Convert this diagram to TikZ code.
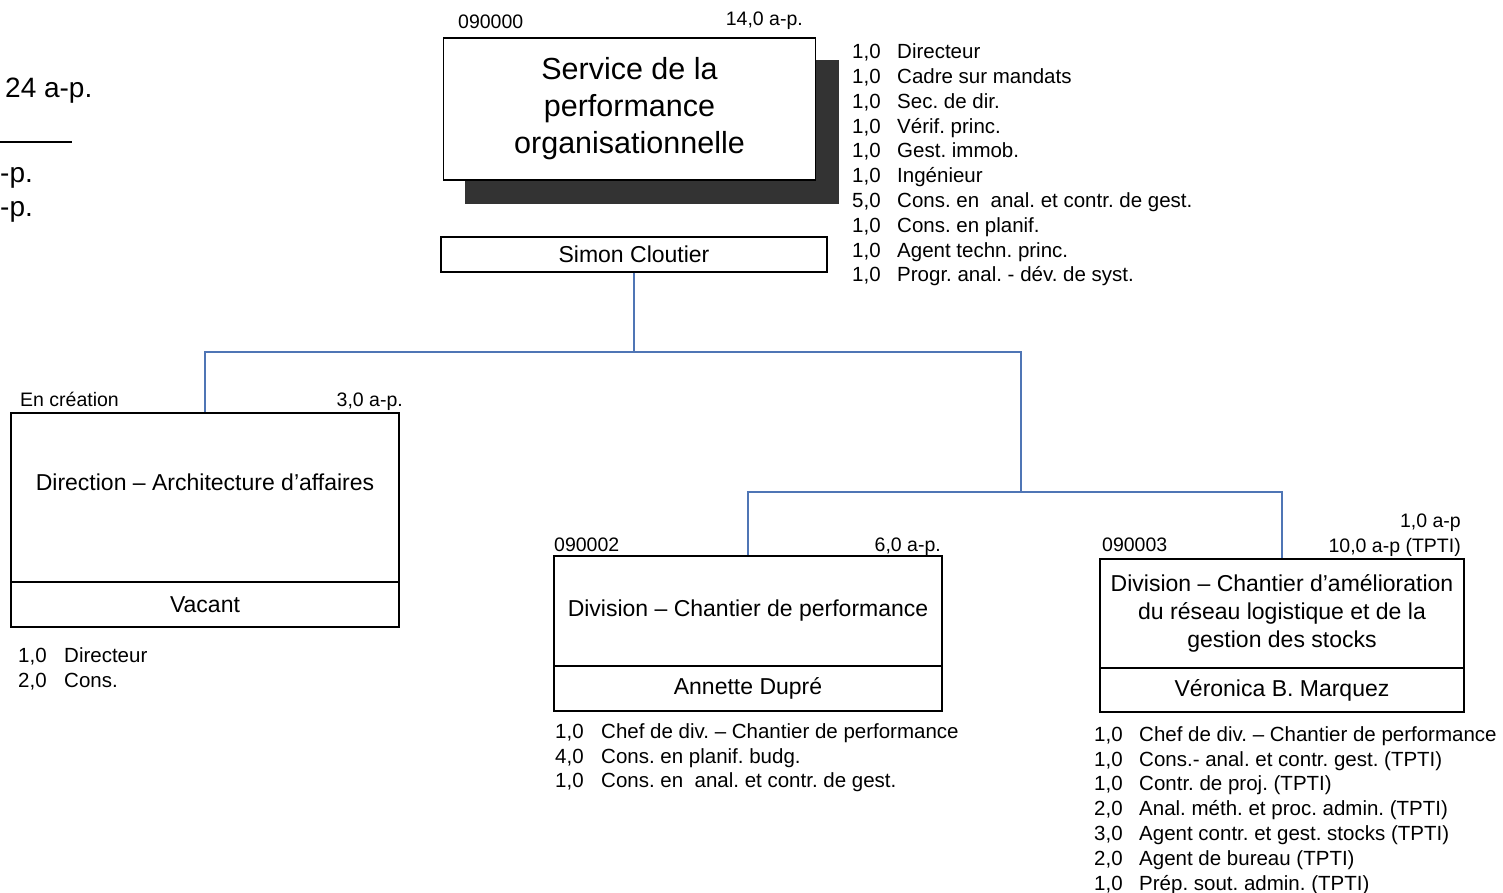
\documentclass[tikz,border=0pt]{standalone}
\usepackage{fontspec}
\setmainfont{Liberation Sans}
\frenchspacing
\definecolor{linkblue}{HTML}{4F75B5}
\definecolor{shadowgray}{HTML}{333333}
\begin{document}
\frenchspacing
\begin{tikzpicture}[x=1pt,y=-1pt,
  box/.style={draw=black,line width=1.4pt,fill=white,inner sep=0pt,align=center,font=\fontsize{23}{28}\selectfont},
  boxtxt/.style={inner sep=0pt,align=center,font=\fontsize{23}{28}\selectfont},
  conn/.style={draw=linkblue,line width=1.5pt},
  lbl/.style={inner sep=0pt,font=\fontsize{19.5}{23}\selectfont,text height=14pt,text depth=0pt},
  item/.style={inner sep=0pt,anchor=west,font=\fontsize{20.5}{25}\selectfont,text height=14.7pt,text depth=0pt},
  side/.style={inner sep=0pt,anchor=base west,font=\fontsize{28}{34}\selectfont}]
\useasboundingbox (0,0) rectangle (1503,893);

% partial summary at left edge
\node[side] (sum1) at (5,98) {24 a-p.};
\coordinate (sl1) at (0,142);
\coordinate (sl2) at (72,142);
\draw[line width=1.5pt] (sl1) -- (sl2);
\node[side] (sum2) at (0,183) {-p.};
\node[side] (sum3) at (0,217) {-p.};

% top service box with shadow
\fill[shadowgray] (465,60) rectangle (839,204);
\node[box,minimum width=372pt,minimum height=142pt,font=\fontsize{30.5}{37}\selectfont] (svc) at (629.5,109) {Service de la\\performance\\organisationnelle};
\node[lbl,anchor=west] (svcnum) at (458,22) {090000};
\node[lbl,anchor=east] (svcap) at (803,19) {14,0 a-p.};
\node[box,minimum width=386pt,minimum height=35pt] (sc) at (634,254.5) {Simon Cloutier};

\foreach \n/\t [count=\i] in {{1,0}/Directeur,{1,0}/Cadre sur mandats,{1,0}/Sec. de dir.,{1,0}/Vérif. princ.,{1,0}/Gest. immob.,{1,0}/Ingénieur,{5,0}/Cons. en\ \ anal. et contr. de gest.,{1,0}/Cons. en planif.,{1,0}/Agent techn. princ.,{1,0}/Progr. anal. - dév. de syst.}{
  \node[item] (sn\i) at (852,26.5+24.8*\i) {\n};
  \node[item] (st\i) at (897,26.5+24.8*\i) {\t};
}

% Direction - Architecture d'affaires
\node[box,minimum width=388pt,minimum height=169pt] (dir) at (205,497.5) {};
\node[boxtxt] (dirtxt) at (205,482) {Direction – Architecture d’affaires};
\node[box,minimum width=388pt,minimum height=45pt] (dirn) at (205,604.5) {Vacant};
\node[lbl,anchor=west] (dirnum) at (20,399) {En création};
\node[lbl,anchor=east] (dirap) at (403,399) {3,0 a-p.};
\foreach \n/\t [count=\i] in {{1,0}/Directeur,{2,0}/Cons.}{
  \node[item] (dn\i) at (18,630.2+24.8*\i) {\n};
  \node[item] (dt\i) at (64,630.2+24.8*\i) {\t};
}

% Division - Chantier de performance
\node[box,minimum width=388pt,minimum height=110pt] (dv1) at (748,611) {Division – Chantier de performance};
\node[box,line width=2pt,minimum width=388pt,minimum height=45pt] (dv1n) at (748,688.5) {Annette Dupré};
\node[lbl,anchor=west] (dv1num) at (554,544) {090002};
\node[lbl,anchor=east] (dv1ap) at (941,544) {6,0 a-p.};
\foreach \n/\t [count=\i] in {{1,0}/Chef de div. – Chantier de performance,{4,0}/Cons. en planif. budg.,{1,0}/Cons. en\ \ anal. et contr. de gest.}{
  \node[item] (an\i) at (555,706.2+24.8*\i) {\n};
  \node[item] (at\i) at (601,706.2+24.8*\i) {\t};
}

% Division - Chantier d'amelioration
\node[box,minimum width=364pt,minimum height=109pt] (dv2) at (1282,613.5) {Division – Chantier d’amélioration\\du réseau logistique et de la\\gestion des stocks};
\node[box,minimum width=364pt,minimum height=44pt] (dv2n) at (1282,690) {Véronica B. Marquez};
\node[lbl,anchor=west] (dv2num) at (1102,544) {090003};
\node[lbl,anchor=east] (dv2ap1) at (1461,520) {1,0 a-p};
\node[lbl,anchor=east] (dv2ap2) at (1461,545) {10,0 a-p (TPTI)};
\foreach \n/\t [count=\i] in {{1,0}/Chef de div. – Chantier de performance,{1,0}/Cons.- anal. et contr. gest. (TPTI),{1,0}/Contr. de proj. (TPTI),{2,0}/Anal. méth. et proc. admin. (TPTI),{3,0}/Agent contr. et gest. stocks (TPTI),{2,0}/Agent de bureau (TPTI),{1,0}/Prép. sout. admin. (TPTI)}{
  \node[item] (vn\i) at (1094,709.2+24.8*\i) {\n};
  \node[item] (vt\i) at (1139,709.2+24.8*\i) {\t};
}

% connectors
\coordinate (j1) at (634,352);
\coordinate (j2) at (1021,492);
\draw[conn] (sc.south) -- (j1);
\draw[conn] (j1) -| (dir.north);
\draw[conn] (j1) -| (j2);
\draw[conn] (j2) -| (dv1.north);
\draw[conn] (j2) -| (dv2.north);
\end{tikzpicture}
\end{document}
